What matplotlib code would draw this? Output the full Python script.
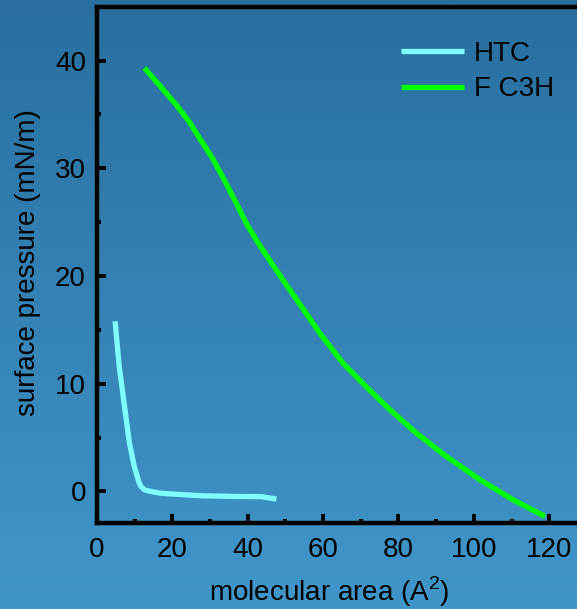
import numpy as np
import matplotlib
matplotlib.use('Agg')
import matplotlib.pyplot as plt
from matplotlib.ticker import MultipleLocator
from matplotlib.colors import LinearSegmentedColormap

plt.rcParams.update({
    "font.family": ['Liberation Sans', 'DejaVu Sans'],
    "mathtext.fontset": 'custom',
    "mathtext.rm": 'Liberation Sans',
})
size = 20

# HTC isotherm
htc_area = [4.8, 5.9, 7.3, 8.6, 9.9, 11.2, 11.7, 12.6, 14.3, 16.6, 18.8,
            27.6, 36.5, 43.6, 47.6]
htc_pres = [15.8, 11.6, 7.9, 4.5, 2.3, 0.78, 0.46, 0.15, 0.0, -0.15, -0.21,
            -0.4, -0.46, -0.48, -0.7]

# F C3H isotherm
fc3h_area = [12.6, 16.6, 21.0, 24.5, 27.2, 30.7, 33.8, 36.9, 39.6, 42.7, 46.7,
             50.0, 54.2, 59.1, 65.3, 71.5, 77.7, 84.8, 92.7, 101.6, 110.4, 118.9]
fc3h_pres = [39.3, 37.7, 35.9, 34.3, 32.8, 30.9, 28.9, 26.8, 24.9, 23.1, 21.0,
             19.3, 17.2, 14.7, 11.9, 9.7, 7.6, 5.4, 3.25, 1.09, -0.77, -2.32]

W, H = 577, 609
fig = plt.figure(figsize=(W / 100, H / 100), dpi=100)

# gradient background
bg = fig.add_axes([0, 0, 1, 1])
cmap = LinearSegmentedColormap.from_list('bg', ['#286f9f', '#4196c9'])
bg.imshow(np.linspace(0, 1, 256).reshape(-1, 1), aspect='auto', cmap=cmap,
          extent=[0, 1, 0, 1])
bg.set_axis_off()

left, bottom, top = 97 / W, 1 - 522.7 / H, 1 - 6.7 / H
right = (97.7 + 130 * 3.763) / W
ax = fig.add_axes([left, bottom, right - left, top - bottom])
ax.patch.set_alpha(0)

ax.plot(htc_area, htc_pres, color='#80ffff', lw=3.8, label='HTC',
        solid_capstyle='butt', solid_joinstyle='round')
ax.plot(fc3h_area, fc3h_pres, color='#00ff00', lw=3.8, label='F C3H',
        solid_capstyle='butt', solid_joinstyle='round')

ax.set_xlim(0, 130)
ax.set_ylim(-2.9, 45)
ax.xaxis.set_major_locator(MultipleLocator(20))
ax.xaxis.set_minor_locator(MultipleLocator(10))
ax.yaxis.set_major_locator(MultipleLocator(10))
ax.yaxis.set_minor_locator(MultipleLocator(5))

for s in ax.spines.values():
    s.set_linewidth(3.2)
    s.set_color('black')
ax.spines['right'].set_visible(False)

ax.tick_params(which='both', direction='in', top=False, right=False,
               labelsize=size, colors='black', width=2.8)
ax.tick_params(which='major', length=6.5)
ax.tick_params(which='minor', length=3)
ax.tick_params(axis='x', which='major', pad=10)
ax.tick_params(axis='y', which='major', pad=8)

fig.text(28 / W, 1 - 263 / H, 'surface pressure (mN/m)', rotation=90,
         ha='center', va='center', fontsize=size)
fig.text(329 / W, 1 - 592 / H, r'molecular area (A$^2$)',
         ha='center', va='center', fontsize=size)

fig.legend(loc='upper left', bbox_to_anchor=(390 / W, 1 - 30 / H),
           frameon=False, fontsize=size, handlelength=2.27, handletextpad=0.36,
           labelspacing=0.33, borderaxespad=0)

plt.savefig('out.png', dpi=100)
